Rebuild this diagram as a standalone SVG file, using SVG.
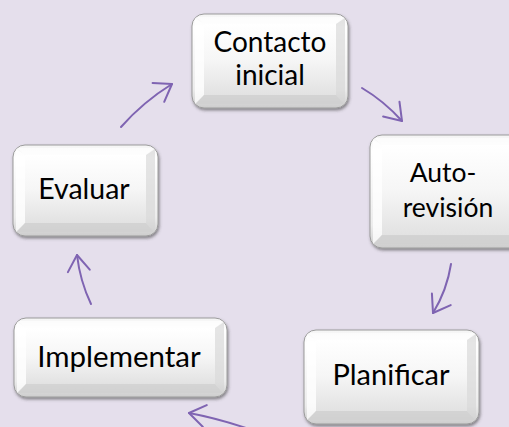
<svg xmlns="http://www.w3.org/2000/svg" width="509" height="427" viewBox="0 0 509 427">
<defs>
<style>
.outer{fill:url(#gOuter);stroke:#9c9c9c;stroke-width:1;filter:url(#sh)}
.bl{fill:#ffffff;opacity:.75}
.br{fill:#d4d4d4;opacity:.6}
.bt{fill:#ffffff;opacity:.6}
.bb{fill:#cfcfcf;opacity:.8}
.face{fill:url(#gFace)}
.lbl{font-family:Lato,"Noto Sans",sans-serif;fill:#000;text-anchor:middle}
.arr{fill:none;stroke:#7F64B2;stroke-width:2;stroke-linecap:round;marker-end:url(#ah)}
</style>
<linearGradient id="gOuter" x1="0" y1="0" x2="0" y2="1">
<stop offset="0" stop-color="#f4f4f4"/>
<stop offset="0.15" stop-color="#ffffff"/>
<stop offset="0.8" stop-color="#ececec"/>
<stop offset="1" stop-color="#cdcdcd"/>
</linearGradient>
<linearGradient id="gFace" x1="0" y1="0" x2="0" y2="1">
<stop offset="0" stop-color="#ffffff"/>
<stop offset="0.5" stop-color="#f6f6f6"/>
<stop offset="1" stop-color="#e2e2e2"/>
</linearGradient>
<filter id="sh" x="-10%" y="-10%" width="125%" height="130%">
<feDropShadow dx="1" dy="2" stdDeviation="1.5" flood-color="#3a3a3a" flood-opacity="0.55"/>
</filter>
<marker id="ah" markerUnits="userSpaceOnUse" markerWidth="30" markerHeight="30" refX="0" refY="0" viewBox="-20 -15 30 30" orient="auto">
<path d="M-16,-11 L0,0 L-16,11" fill="none" stroke="#7F64B2" stroke-width="2" stroke-linecap="round" stroke-linejoin="round"/>
</marker>
</defs>
<rect width="509" height="427" fill="#E5DFEC"/>

<g id="connectors">
<path class="arr" d="M121,127 Q143,102 172,84"/>
<path class="arr" d="M362,88 Q384,101 402,121"/>
<path class="arr" d="M451,264 Q447,290 433,313"/>
<path class="arr" d="M246,428 Q216,418 189,413"/>
<path class="arr" d="M91,304 Q80,281 77,255"/>
</g>

<g id="n-contacto" transform="translate(192,14)">
<rect class="outer" x="0" y="0" width="156" height="94" rx="12"/>
<polygon class="bt" points="4,3 152,3 144,10 12,10"/>
<polygon class="bl" points="3,4 12,10 12,81 3,90"/>
<polygon class="br" points="153,4 144,10 144,81 153,90"/>
<polygon class="bb" points="12,81 144,81 152,90 4,90"/>
<rect class="face" x="12" y="10" width="132" height="71"/>
<text class="lbl" x="78" y="38" font-size="28">Contacto</text>
<text class="lbl" x="78" y="71" font-size="28">inicial</text>
</g>

<g id="n-autorevision" transform="translate(370,135)">
<rect class="outer" x="0" y="0" width="156" height="113" rx="12"/>
<polygon class="bt" points="4,3 152,3 144,10 12,10"/>
<polygon class="bl" points="3,4 12,10 12,100 3,109"/>
<polygon class="br" points="153,4 144,10 144,100 153,109"/>
<polygon class="bb" points="12,100 144,100 152,109 4,109"/>
<rect class="face" x="12" y="10" width="132" height="90"/>
<text class="lbl" x="73" y="47" font-size="26.5">Auto-</text>
<text class="lbl" x="78" y="82" font-size="26.5">revisión</text>
</g>

<g id="n-planificar" transform="translate(304,330)">
<rect class="outer" x="0" y="0" width="175" height="94" rx="12"/>
<polygon class="bt" points="4,3 171,3 163,10 12,10"/>
<polygon class="bl" points="3,4 12,10 12,81 3,90"/>
<polygon class="br" points="172,4 163,10 163,81 172,90"/>
<polygon class="bb" points="12,81 163,81 171,90 4,90"/>
<rect class="face" x="12" y="10" width="151" height="71"/>
<text class="lbl" x="87" y="55" font-size="29">Planificar</text>
</g>

<g id="n-implementar" transform="translate(14,318)">
<rect class="outer" x="0" y="0" width="213" height="79" rx="12"/>
<polygon class="bt" points="4,3 209,3 201,10 12,10"/>
<polygon class="bl" points="3,4 12,10 12,66 3,75"/>
<polygon class="br" points="210,4 201,10 201,66 210,75"/>
<polygon class="bb" points="12,66 201,66 209,75 4,75"/>
<rect class="face" x="12" y="10" width="189" height="56"/>
<text class="lbl" x="105" y="49" font-size="29.5">Implementar</text>
</g>

<g id="n-evaluar" transform="translate(13,145)">
<rect class="outer" x="0" y="0" width="145" height="91" rx="12"/>
<polygon class="bt" points="4,3 141,3 133,10 12,10"/>
<polygon class="bl" points="3,4 12,10 12,78 3,87"/>
<polygon class="br" points="142,4 133,10 133,78 142,87"/>
<polygon class="bb" points="12,78 133,78 141,87 4,87"/>
<rect class="face" x="12" y="10" width="121" height="68"/>
<text class="lbl" x="71" y="54" font-size="28.5">Evaluar</text>
</g>
</svg>
